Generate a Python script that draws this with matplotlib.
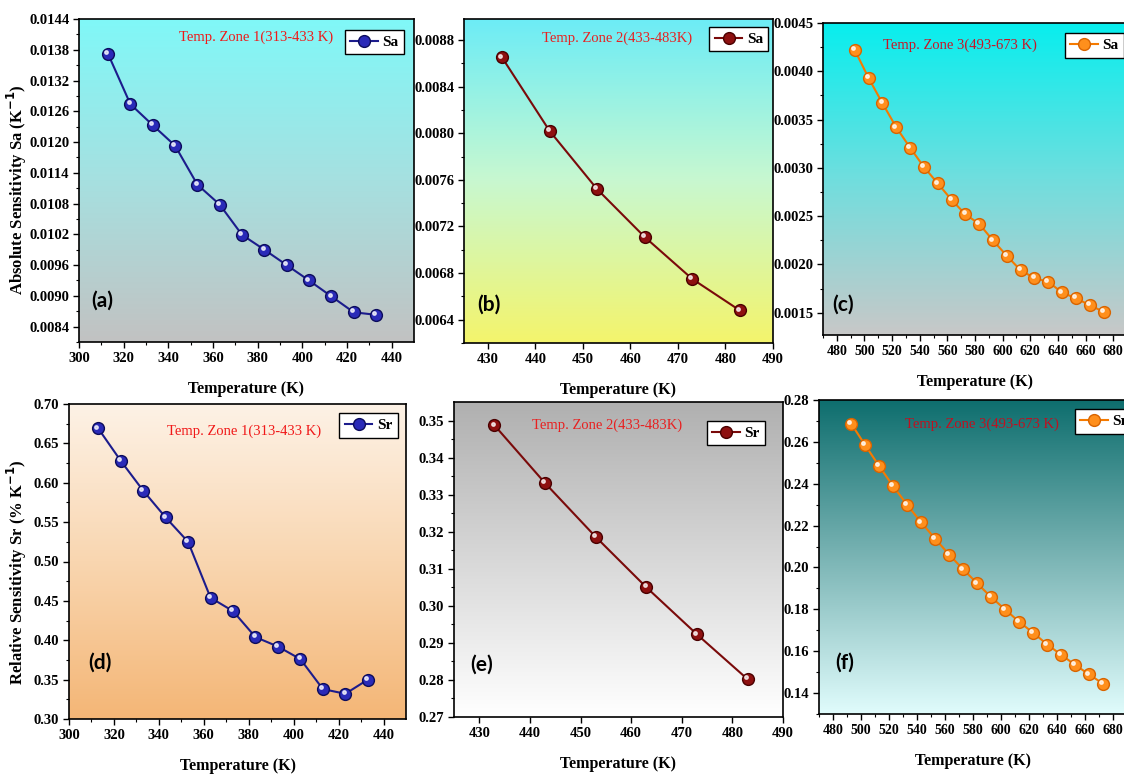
import numpy as np
import matplotlib.pyplot as plt
from matplotlib.colors import LinearSegmentedColormap
from matplotlib.transforms import ScaledTranslation

# temperatures (K)
temp_z1 = [313, 323, 333, 343, 353, 363, 373, 383, 393, 403, 413, 423, 433]
temp_z2 = [433, 443, 453, 463, 473, 483]
temp_z3 = [493, 503, 513, 523, 533, 543, 553, 563, 573, 583, 593,
           603, 613, 623, 633, 643, 653, 663, 673]

# absolute sensitivity Sa (K^-1)
sa_z1 = [0.01372, 0.01274, 0.01233, 0.01193, 0.01117, 0.01078, 0.01019,
         0.00990, 0.00960, 0.00930, 0.00899, 0.00868, 0.00863]
sa_z2 = [0.00865, 0.00802, 0.00752, 0.00711, 0.00675, 0.00648]
sa_z3 = [0.00422, 0.00393, 0.00367, 0.00342, 0.00321, 0.00301, 0.00284,
         0.00267, 0.00252, 0.00242, 0.00225, 0.00209, 0.00194, 0.00186,
         0.00182, 0.00171, 0.00165, 0.00158, 0.00151]

# relative sensitivity Sr (% K^-1)
sr_z1 = [0.669, 0.628, 0.590, 0.556, 0.525, 0.454, 0.437, 0.404, 0.392,
         0.376, 0.338, 0.332, 0.350]
sr_z2 = [0.3487, 0.3331, 0.3186, 0.3050, 0.2923, 0.2802]
sr_z3 = [0.2687, 0.2584, 0.2484, 0.2388, 0.2299, 0.2215, 0.2137, 0.2061,
         0.1991, 0.1924, 0.1858, 0.1799, 0.1740, 0.1688, 0.1632, 0.1583,
         0.1534, 0.1489, 0.1444]

zone_titles = ["Temp. Zone 1(313-433 K)", "Temp. Zone 2(433-483K)", "Temp. Zone 3(493-673 K)"]

SERIF = "Liberation Serif"
W, H = 1124, 775

fig = plt.figure(figsize=(W / 100, H / 100), dpi=100)


def add_ax(l, t, r, b):
    return fig.add_axes([l / W, 1 - b / H, (r - l) / W, (b - t) / H])


def gradient(ax, colors):
    cmap = LinearSegmentedColormap.from_list("bg", colors)
    grad = np.linspace(0, 1, 256).reshape(-1, 1)
    ax.imshow(grad, cmap=cmap, aspect="auto", extent=[0, 1, 0, 1],
              transform=ax.transAxes, zorder=0, origin="upper")


def panel(ax, x, y, name, line_c, face_c, edge_c, bg, title, title_c, title_pos,
          tag, tag_pos, xlim, xticks, ylim, yticks, yfmt, leg_anchor, xminor, yminor,
          xtick_size=10.5):
    gradient(ax, bg)
    ax.plot(x, y, "-", color=line_c, lw=1.5, marker="o", ms=8.5,
            mfc=face_c, mec=edge_c, mew=1.0, label=name, zorder=3)
    # little highlight on each ball
    hl = ax.transData + ScaledTranslation(-1.3 / 72, 1.3 / 72, fig.dpi_scale_trans)
    ax.plot(x, y, "o", ms=2.5, color="white", alpha=0.75, transform=hl, zorder=4)
    ax.set_xlim(*xlim)
    ax.set_ylim(*ylim)
    ax.set_xticks(xticks)
    ax.set_yticks(yticks)
    ax.set_xticks(xminor, minor=True)
    ax.set_yticks(yminor, minor=True)
    ax.set_yticklabels([yfmt.format(v) for v in yticks])
    ax.set_xticklabels([str(v) for v in xticks])
    for lab in ax.get_yticklabels():
        lab.set_fontfamily(SERIF)
        lab.set_fontweight("bold")
        lab.set_fontsize(10.5)
    for lab in ax.get_xticklabels():
        lab.set_fontfamily(SERIF)
        lab.set_fontweight("bold")
        lab.set_fontsize(xtick_size)
    ax.tick_params(which="major", direction="out", length=4, width=1, pad=3)
    ax.tick_params(which="minor", direction="out", length=2.5, width=0.8)
    for s in ax.spines.values():
        s.set_linewidth(1.2)
        s.set_zorder(5)
    ax.set_xlabel("Temperature (K)", fontfamily=SERIF, fontweight="bold",
                  fontsize=11.5, labelpad=12)
    ax.text(title_pos[0], title_pos[1], title, transform=ax.transAxes, color=title_c,
            fontfamily=SERIF, fontsize=10.5, ha="center", va="center", zorder=6)
    ax.text(tag_pos[0], tag_pos[1], tag, transform=ax.transAxes, fontfamily="Lato",
            fontweight="bold", fontsize=15, ha="center", va="center", zorder=6)
    leg = ax.legend(loc="upper right", bbox_to_anchor=leg_anchor, frameon=True,
                    fancybox=False, edgecolor="black", framealpha=1, handlelength=1.8,
                    handletextpad=0.3, borderpad=0.35, borderaxespad=0,
                    prop={"family": SERIF, "weight": "bold", "size": 11})
    leg.get_frame().set_linewidth(1.0)
    leg.set_zorder(7)


blue_l, blue_f, blue_e = "#1c1c8c", "#2a2ab8", "#0c0c5c"
red_l, red_f, red_e = "#7a0a0a", "#8e1010", "#4a0000"
org_l, org_f, org_e = "#f57a00", "#ff8f1c", "#d86400"

ax_a = add_ax(79, 19, 414, 342)
panel(ax_a, temp_z1, sa_z1, "Sa", blue_l, blue_f, blue_e,
      ["#80f8f8", "#a6e0e0", "#c2c2c2"], zone_titles[0], "#f01818", (0.53, 0.944),
      "(a)", (0.07, 0.127), (300, 450), np.arange(300, 441, 20),
      (0.0081, 0.0144), np.round(np.arange(0.0084, 0.01441, 0.0006), 4), "{:.4f}",
      (0.97, 0.966), np.arange(310, 450, 20), np.round(np.arange(0.0081, 0.0144, 0.0006), 5))
ax_a.set_ylabel("Absolute Sensitivity Sa (K$^{\\mathbf{-1}}$)", fontfamily=SERIF,
                fontweight="bold", fontsize=12)
ax_a.yaxis.set_label_coords(-0.15, 0.47)

ax_b = add_ax(464, 19, 773, 343)
panel(ax_b, temp_z2, sa_z2, "Sa", red_l, red_f, red_e,
      ["#6cecf6", "#c8f8d0", "#f4f46c"], zone_titles[1], "#e82020", (0.495, 0.94),
      "(b)", (0.08, 0.117), (425, 490), np.arange(430, 491, 10),
      (0.00622, 0.00898), np.round(np.arange(0.0064, 0.00881, 0.0004), 4), "{:.4f}",
      (0.985, 0.975), np.arange(425, 490, 5)[1::2], np.round(np.arange(0.0062, 0.0090, 0.0004), 5))

ax_c = add_ax(823, 23, 1127, 335)
panel(ax_c, temp_z3, sa_z3, "Sa", org_l, org_f, org_e,
      ["#08eeee", "#70dede", "#c8c8c8"], zone_titles[2], "#c81426", (0.45, 0.93),
      "(c)", (0.065, 0.096), (470, 690), np.arange(480, 681, 20),
      (0.00127, 0.0045), np.round(np.arange(0.0015, 0.00451, 0.0005), 4), "{:.4f}",
      (0.99, 0.967), np.arange(470, 690, 20), np.round(np.arange(0.00175, 0.0045, 0.0005), 5),
      xtick_size=10)

ax_d = add_ax(69, 404, 406, 719)
panel(ax_d, temp_z1, sr_z1, "Sr", blue_l, blue_f, blue_e,
      ["#fdf2e6", "#f9d6b0", "#f4b676"], zone_titles[0], "#f01818", (0.52, 0.914),
      "(d)", (0.092, 0.178), (300, 450), np.arange(300, 441, 20),
      (0.30, 0.70), np.round(np.arange(0.30, 0.701, 0.05), 2), "{:.2f}",
      (0.975, 0.97), np.arange(310, 450, 20), np.round(np.arange(0.325, 0.70, 0.05), 3))
ax_d.set_ylabel("Relative Sensitivity Sr (% K$^{\\mathbf{-1}}$)", fontfamily=SERIF,
                fontweight="bold", fontsize=12)
ax_d.yaxis.set_label_coords(-0.12, 0.467)

ax_e = add_ax(454, 402, 783, 717)
panel(ax_e, temp_z2, sr_z2, "Sr", red_l, red_f, red_e,
      ["#b0b0b0", "#d8d8d8", "#ffffff"], zone_titles[1], "#e82020", (0.465, 0.927),
      "(e)", (0.085, 0.165), (425, 490), np.arange(430, 491, 10),
      (0.27, 0.355), np.round(np.arange(0.27, 0.351, 0.01), 2), "{:.2f}",
      (0.945, 0.94), np.arange(425, 490, 5)[1::2], np.round(np.arange(0.275, 0.355, 0.01), 3))

ax_f = add_ax(819, 400, 1127, 714)
panel(ax_f, temp_z3, sr_z3, "Sr", org_l, org_f, org_e,
      ["#0e6e6e", "#7ab4b4", "#e0fcfc"], zone_titles[2], "#c01020", (0.53, 0.923),
      "(f)", (0.084, 0.162), (470, 690), np.arange(480, 681, 20),
      (0.13, 0.28), np.round(np.arange(0.14, 0.281, 0.02), 2), "{:.2f}",
      (1.02, 0.97), np.arange(470, 690, 20), np.round(np.arange(0.13, 0.28, 0.02), 3),
      xtick_size=10)

fig.savefig("out.png", dpi=100)
